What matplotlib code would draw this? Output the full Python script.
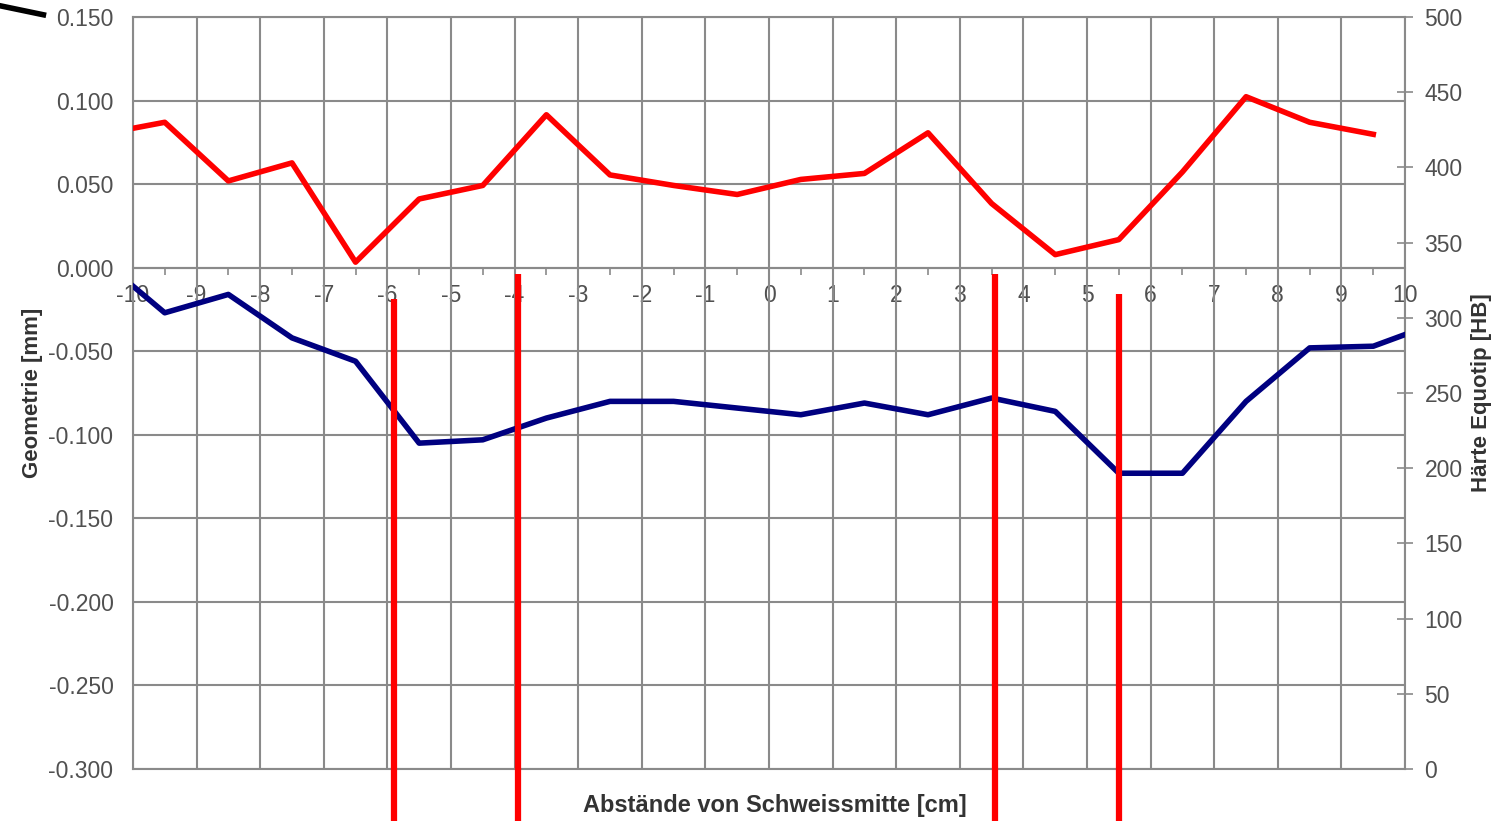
import numpy as np
import matplotlib
matplotlib.use("Agg")
import matplotlib.pyplot as plt
from matplotlib.lines import Line2D

plt.rcParams['font.family'] = ['Liberation Sans', 'DejaVu Sans']

# Measurement positions [cm]
pos_haerte = [-10, -9.5, -8.5, -7.5, -6.5, -5.5, -4.5, -3.5, -2.5, -1.5, -0.5,
              0.5, 1.5, 2.5, 3.5, 4.5, 5.5, 6.5, 7.5, 8.5, 9.5]
haerte = [426, 430, 391, 403, 337, 379, 388, 435, 395, 388, 382,
          392, 396, 423, 376, 342, 352, 397, 447, 430, 422]

pos_geo = [-10, -9.5, -8.5, -7.5, -6.5, -5.5, -4.5, -3.5, -2.5, -1.5, -0.5,
           0.5, 1.5, 2.5, 3.5, 4.5, 5.5, 6.5, 7.5, 8.5, 9.5, 10]
geometrie = [-0.011, -0.027, -0.016, -0.042, -0.056, -0.105, -0.103, -0.090,
             -0.080, -0.080, -0.084, -0.088, -0.081, -0.088, -0.078, -0.086,
             -0.123, -0.123, -0.080, -0.048, -0.047, -0.040]

y_ticks = [-0.3, -0.25, -0.2, -0.15, -0.1, -0.05, 0.0, 0.05, 0.1, 0.15]
y_labels = ['-0.300', '-0.250', '-0.200', '-0.150', '-0.100', '-0.050',
            '0.000', '0.050', '0.100', '0.150']

# red marker lines (x position, top in mm)
marker_x = [-5.9, -3.95, 3.56, 5.5]
marker_top = [-0.019, -0.004, -0.004, -0.016]

fig = plt.figure(figsize=(14.97, 8.21), dpi=100)
ax = fig.add_axes([0.0888, 0.0633, 0.8498, 0.916])
grid_col = '#8a8a8a'
txt_col = '#505050'

ax.set_xlim(-10, 10)
ax.set_ylim(-0.3, 0.15)
ax.set_yticks(y_ticks)
ax.set_yticklabels(y_labels, fontsize=16.5, color=txt_col)
ax.set_xticks(np.arange(-10, 11, 1))
ax.tick_params(axis='x', labelbottom=False, length=0)
ax.tick_params(axis='y', length=0, pad=14)
ax.grid(True, color=grid_col, lw=1.5)
for s in ax.spines.values():
    s.set_color(grid_col)
    s.set_linewidth(1.5)
ax.set_ylabel('Geometrie [mm]', fontsize=16, fontweight='bold', color='#333333', labelpad=4)

# x labels along the zero line
sec = ax.secondary_xaxis(2 / 3)
sec.xaxis.set_ticks_position('bottom')
sec.xaxis.set_label_position('bottom')
sec.set_xticks(np.arange(-10, 11, 1))
sec.set_xticklabels([str(v) for v in range(-10, 11)], fontsize=16.5, color=txt_col)
sec.set_xticks(np.arange(-9.5, 10, 1), minor=True)
sec.tick_params(axis='x', which='major', length=0, pad=12, bottom=True, top=False,
                labelbottom=True, labeltop=False)
sec.tick_params(axis='x', which='minor', length=5, color=grid_col, width=1.2,
                direction='out', bottom=True, top=False)
for s in sec.spines.values():
    s.set_color(grid_col)
    s.set_linewidth(1.5)

ax.plot(pos_geo, geometrie, color='#000080', lw=4, solid_joinstyle='round', zorder=5)

ax2 = ax.twinx()
ax2.set_ylim(0, 500)
ax2.set_yticks(np.arange(0, 501, 50))
ax2.set_yticklabels([str(v) for v in range(0, 501, 50)], fontsize=16.5, color=txt_col)
ax2.tick_params(axis='y', direction='inout', length=12, color=grid_col, width=1.2, pad=8)
for s in ax2.spines.values():
    s.set_visible(False)
ax2.set_ylabel('Härte Equotip [HB]', fontsize=16, fontweight='bold', color='#333333', labelpad=6)
ax2.plot(pos_haerte, haerte, color='#ff0000', lw=4, solid_joinstyle='round', zorder=5)

fig.text(0.5177, 0.019, 'Abstände von Schweissmitte [cm]', ha='center', va='center',
         fontsize=17, fontweight='bold', color='#333333')

# red vertical marker lines, running past the plot bottom
for xm, yt in zip(marker_x, marker_top):
    ax2.add_line(Line2D([xm, xm], [(yt + 0.3) / 0.45 * 500, -35], color='#ff0000',
                        lw=4.5, clip_on=False, zorder=10, solid_capstyle='butt'))

# black stroke in top-left corner
fig.add_artist(Line2D([0.0, 0.029], [0.993, 0.982], color='black', lw=4,
                      transform=fig.transFigure))

fig.savefig('out.png', dpi=100)
